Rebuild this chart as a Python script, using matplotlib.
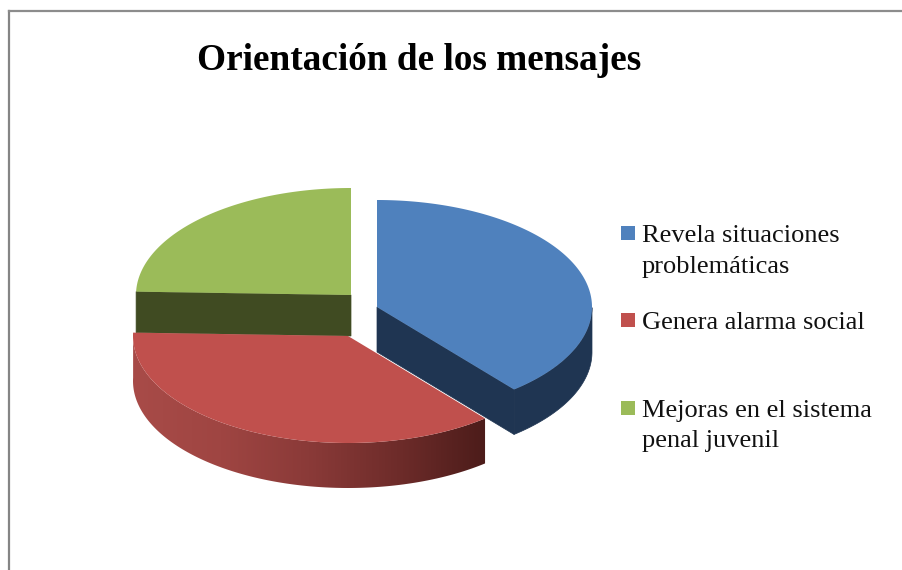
import numpy as np
import matplotlib
matplotlib.use("Agg")
import matplotlib.pyplot as plt
from matplotlib.colors import LinearSegmentedColormap
from matplotlib.patches import Polygon, Rectangle

title = "Orientación de los mensajes"
labels = ["Revela situaciones\nproblemáticas", "Genera alarma social", "Mejoras en el sistema\npenal juvenil"]
values = [39, 36.5, 24.5]
top_colors = ["#4F81BD", "#C0504D", "#9BBB59"]
legend_y = [232, 319, 407]

plt.rcParams["font.family"] = ["Liberation Serif", "DejaVu Serif"]

RX, RY, DEPTH = 215, 107, 45
centers = [(377, 307), (348, 336), (351, 295)]


def arc(center, a0, a1, n=200):
    # angles clockwise from 12 o'clock, in degrees
    t = np.radians(np.linspace(a0, a1, n))
    return np.column_stack([center[0] + RX * np.sin(t), center[1] - RY * np.cos(t)])


fig = plt.figure(figsize=(9.03, 5.70), dpi=100)
ax = fig.add_axes([0, 0, 1, 1])
ax.set_xlim(0, 903)
ax.set_ylim(570, 0)
ax.axis("off")

# chart frame
ax.plot([9, 9], [570, 11], color="#858585", lw=1.6)
ax.plot([9, 903], [11, 11], color="#8C8C8C", lw=1.6)

ang = np.concatenate([[0], np.cumsum(values)]) / sum(values) * 360

# green slice, cut face then top
c = centers[2]
pts = arc(c, ang[2], ang[3])
ax.add_patch(Polygon([pts[0], c, (c[0], c[1] + 41), (pts[0][0], pts[0][1] + 41)], fc="#404B22", ec="#404B22", lw=0.5))
ax.add_patch(Polygon(np.vstack([[c], pts]), color=top_colors[2], lw=0))

# blue slice, cut face, outer wall, top
c = centers[0]
pts = arc(c, ang[0], ang[1])
vis = pts[np.degrees(np.arctan2(pts[:, 0] - c[0], c[1] - pts[:, 1])) >= 90]
wall = np.vstack([vis, vis[::-1] + [0, DEPTH]])
ax.add_patch(Polygon(wall, fc="#1F3552", ec="#1F3552", lw=0.5))
tip = pts[-1]
ax.add_patch(Polygon([c, tip, tip + [0, DEPTH], (c[0], c[1] + DEPTH)], fc="#1F3552", ec="#1F3552", lw=0.5))
ax.add_patch(Polygon(np.vstack([[c], pts]), color=top_colors[0], lw=0))

# red slice, shaded wall then top
c = centers[1]
pts = arc(c, ang[1], ang[2])
wall = np.vstack([pts, pts[::-1] + [0, DEPTH]])
cmap = LinearSegmentedColormap.from_list("wall", ["#A84B48", "#9F4542", "#8A3A38", "#6E2C2A", "#4C1C1A"])
x0, x1 = wall[:, 0].min(), wall[:, 0].max()
y0, y1 = wall[:, 1].min(), wall[:, 1].max()
im = ax.imshow(np.linspace(0, 1, 256)[None, :], cmap=cmap, extent=[x0, x1, y1, y0], aspect="auto", zorder=2)
clip = Polygon(wall, transform=ax.transData, fc="none", ec="none")
ax.add_patch(clip)
im.set_clip_path(clip)
ax.set_xlim(0, 903)
ax.set_ylim(570, 0)
ax.add_patch(Polygon(np.vstack([[c], pts]), color=top_colors[1], lw=0, zorder=3))

ax.text(419, 60, title, fontsize=26.8, fontweight="bold", ha="center", va="center", color="black")

for lab, col, y in zip(labels, top_colors, legend_y):
    ax.add_patch(Rectangle((621, y - 6.5), 14, 14, color=col, lw=0))
    ax.text(642, y - 7, lab, fontsize=19, va="top", ha="left", linespacing=1.5, color="#111111")

fig.savefig("out.png", dpi=100)
